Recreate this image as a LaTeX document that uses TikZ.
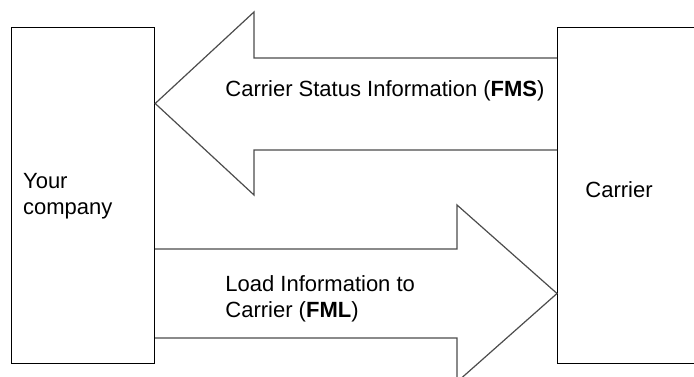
\documentclass[tikz,border=0pt]{standalone}
\usepackage{fontspec}
\setmainfont{Liberation Sans}
\begin{document}
\begin{tikzpicture}[x=0.5bp,y=0.5bp,
    box/.style={draw=black,line width=0.6bp,inner sep=0pt,anchor=south west,
        minimum height=168bp},
    flow/.style={draw=black!70,line width=0.6bp,line join=miter},
    label/.style={inner sep=0pt,font=\fontsize{11bp}{13bp}\selectfont,align=left}]
        \clip (0,0) rectangle (694,377);

        % Boxes
        \node[box,minimum width=71.5bp] (company) at (11,13) {};
        \node[box,minimum width=80bp] (carrier) at (557,13) {};

        % Carrier -> company
        \draw[flow] (carrier.west |- 0,319) -- (254,319) -- (254,365)
            -- (company.east |- 0,273.5) -- (254,182) -- (254,227)
            -- (carrier.west |- 0,227);
        % Company -> carrier
        \draw[flow] (company.east |- 0,128) -- (457,128) -- (457,172)
            -- (carrier.west |- 0,83.5) -- (457,-5) -- (457,39)
            -- (company.east |- 0,39);

        % Labels
        \node[label,anchor=north west] (companyText) at (22.7,204) {Your\\company};
        \node[label,anchor=base west] (carrierText) at (585,179) {Carrier};
        \node[label,anchor=base west] (fmsText) at (225,280) {Carrier Status Information (\textbf{FMS})};
        \node[label,anchor=north west] (fmlText) at (225,102) {Load Information to\\Carrier (\textbf{FML})};
    \end{tikzpicture}
\end{document}
